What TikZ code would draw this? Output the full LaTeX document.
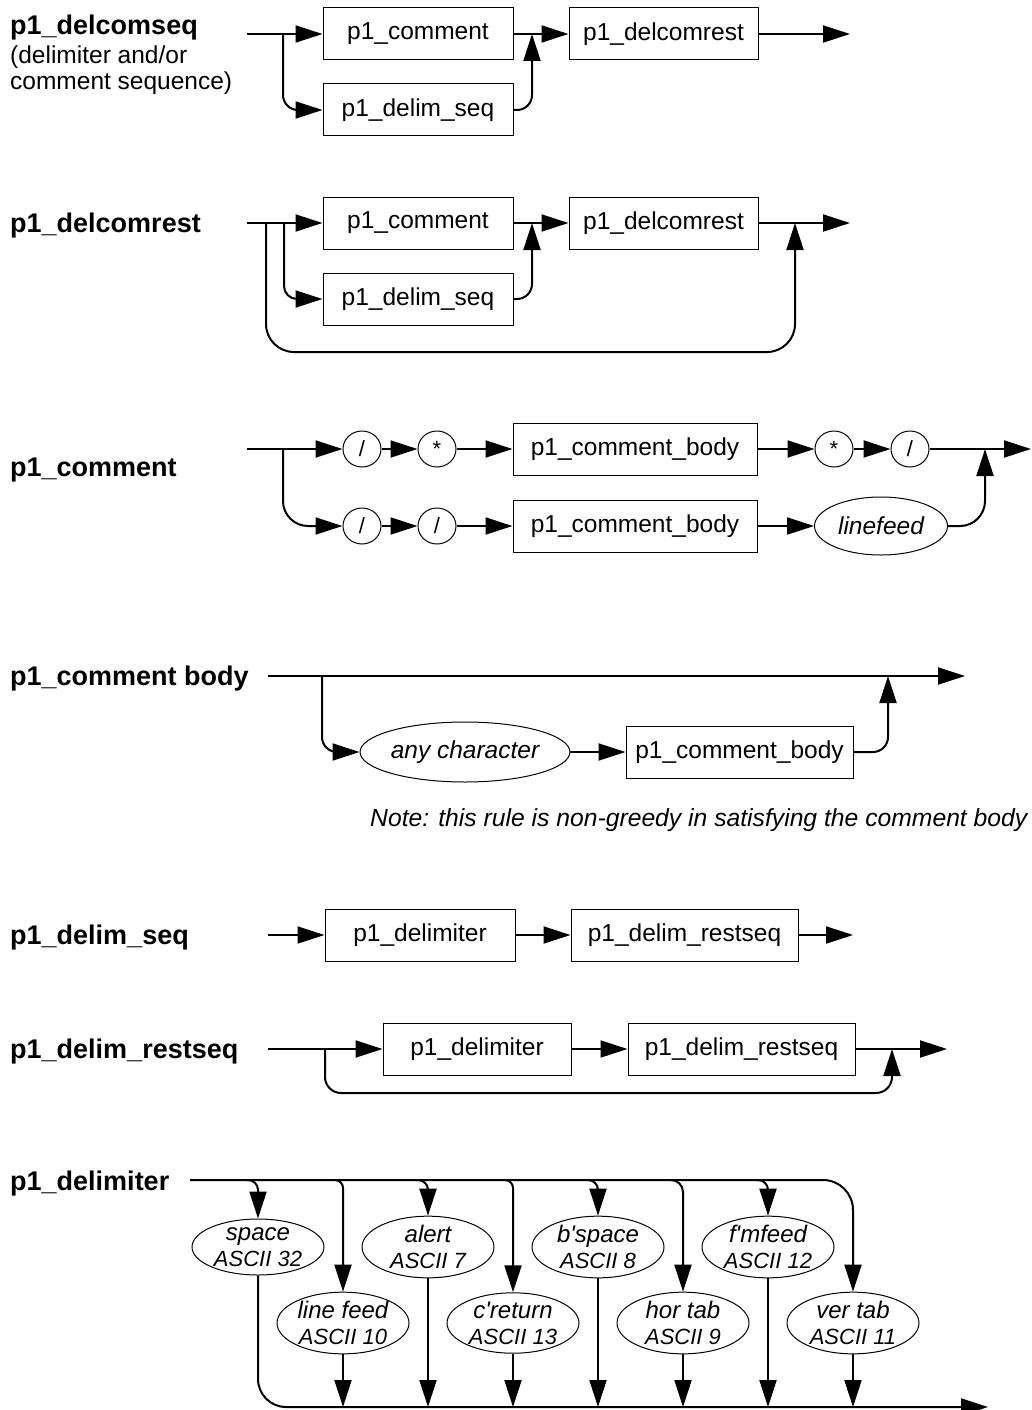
\documentclass[tikz,border=0pt]{standalone}
\usepackage{fontspec}
\setmainfont{Liberation Sans}
\usetikzlibrary{arrows.meta,shapes.geometric}

\begin{document}
\begin{tikzpicture}[x=1pt,y=-1pt,
  conn/.style={line width=2pt,-{Triangle[length=27pt,width=17pt]}},
  wire/.style={line width=2pt},
  box/.style={draw,line width=1pt,rectangle,inner sep=0pt,minimum height=52pt,
    font=\fontsize{24.5}{29}\selectfont},
  term/.style={draw,line width=1pt,ellipse,inner sep=0pt,minimum width=38pt,
    minimum height=36pt,font=\fontsize{22}{26}\selectfont},
  oval/.style={draw,line width=1pt,ellipse,inner sep=0pt,
    font=\fontsize{24.5}{29}\selectfont\itshape},
  dlm/.style={draw,line width=1pt,ellipse,inner sep=0pt,minimum width=132pt,
    minimum height=56pt,align=center,font=\fontsize{24}{26}\selectfont\itshape},
  title/.style={anchor=base west,inner sep=0pt,font=\fontsize{27}{32}\selectfont\bfseries},
  plain/.style={anchor=base west,inner sep=0pt,font=\fontsize{24.5}{29}\selectfont},
]
\useasboundingbox[fill=white] (0,0) rectangle (1032,1410);
\newcommand{\asc}[1]{\fontsize{22}{26}\selectfont #1}
\newcommand{\apo}{\textquotesingle}

% ---------------- p1_delcomseq ----------------
\node[title] (t1) at (10,35) {p1\_delcomseq};
\node[plain] (t1a) at (10,64) {(delimiter and/or};
\node[plain] (t1b) at (10,90) {comment sequence)};
\node[box,minimum width=190pt] (c1) at (418,34) {p1\_comment};
\node[box,minimum width=189pt] (d1) at (663.5,34) {p1\_delcomrest};
\node[box,minimum width=190pt] (s1) at (418,110) {p1\_delim\_seq};
\coordinate (in1) at (247,34);
\coordinate (br1) at (283,34);
\coordinate (jn1) at (532,34);
\coordinate (out1) at (850,34);
\draw[conn] (in1) -- (c1.west);
\draw[conn,rounded corners=15pt] (br1) |- (s1.west);
\draw[conn] (c1.east) -- (d1.west);
\draw[conn,rounded corners=15pt] (s1.east) -| (jn1);
\draw[conn] (d1.east) -- (out1);

% ---------------- p1_delcomrest ----------------
\node[title] (t2) at (10,232) {p1\_delcomrest};
\node[box,minimum width=190pt] (c2) at (418,223) {p1\_comment};
\node[box,minimum width=189pt] (d2) at (663.5,223) {p1\_delcomrest};
\node[box,minimum width=190pt] (s2) at (418,299) {p1\_delim\_seq};
\coordinate (in2) at (247,223);
\coordinate (bo2) at (266,223);
\coordinate (bi2) at (284,223);
\coordinate (lp2) at (530,352);
\coordinate (jn2) at (532,223);
\coordinate (jo2) at (795,223);
\coordinate (out2) at (850,223);
\draw[conn] (in2) -- (c2.west);
\draw[conn,rounded corners=13pt] (bi2) |- (s2.west);
\draw[conn,rounded corners=28pt] (bo2) |- (lp2) -| (jo2);
\draw[conn] (c2.east) -- (d2.west);
\draw[conn,rounded corners=15pt] (s2.east) -| (jn2);
\draw[conn] (d2.east) -- (out2);

% ---------------- p1_comment ----------------
\node[title] (t3) at (10,476) {p1\_comment};
\node[term] (a1) at (362,449) {/};
\node[term] (a2) at (437,449) {*};
\node[box,minimum width=244pt] (b3a) at (635,449) {p1\_comment\_body};
\node[term] (a3) at (834,449) {*};
\node[term] (a4) at (910,449) {/};
\node[term] (a5) at (362,526) {/};
\node[term] (a6) at (437,526) {/};
\node[box,minimum width=244pt] (b3b) at (635,526) {p1\_comment\_body};
\node[oval,minimum width=133pt,minimum height=58pt] (lf3) at (881,526) {linefeed};
\coordinate (in3) at (247,449);
\coordinate (br3) at (283,449);
\coordinate (jn3) at (985,449);
\coordinate (out3) at (1031,449);
\draw[conn] (in3) -- (a1.west);
\draw[conn,rounded corners=25pt] (br3) |- (a5.west);
\draw[conn] (a1) -- (a2);
\draw[conn] (a2) -- (b3a);
\draw[conn] (b3a) -- (a3);
\draw[conn] (a3) -- (a4);
\draw[conn] (a4.east) -- (out3);
\draw[conn] (a5) -- (a6);
\draw[conn] (a6) -- (b3b);
\draw[conn] (b3b) -- (lf3);
\draw[conn,rounded corners=25pt] (lf3.east) -| (jn3);

% ---------------- p1_comment body ----------------
\node[title] (t4) at (10,685) {p1\_comment body};
\node[oval,minimum width=208pt,minimum height=60pt] (any) at (465,752) {any character};
\node[box,minimum width=227pt] (b4) at (739.5,752) {p1\_comment\_body};
\coordinate (in4) at (268,676);
\coordinate (br4) at (322,676);
\coordinate (jn4) at (888,676);
\coordinate (out4) at (965,676);
\draw[conn] (in4) -- (out4);
\draw[conn,rounded corners=15pt] (br4) |- (any.west);
\draw[conn] (any) -- (b4);
\draw[conn,rounded corners=15pt] (b4.east) -| (jn4);
\node[plain,font=\fontsize{24.7}{29}\selectfont\itshape] (note) at (370,826)
  {Note: this rule is non-greedy in satisfying the comment body};

% ---------------- p1_delim_seq ----------------
\node[title] (t5) at (10,944) {p1\_delim\_seq};
\node[box,minimum width=190pt] (d5) at (420,935) {p1\_delimiter};
\node[box,minimum width=227pt] (r5) at (684.5,935) {p1\_delim\_restseq};
\coordinate (in5) at (268,935);
\coordinate (out5) at (853,935);
\draw[conn] (in5) -- (d5.west);
\draw[conn] (d5) -- (r5);
\draw[conn] (r5.east) -- (out5);

% ---------------- p1_delim_restseq ----------------
\node[title] (t6) at (10,1058) {p1\_delim\_restseq};
\node[box,minimum width=188pt] (d6) at (477,1049) {p1\_delimiter};
\node[box,minimum width=227pt] (r6) at (741.5,1049) {p1\_delim\_restseq};
\coordinate (in6) at (268,1049);
\coordinate (br6) at (325,1049);
\coordinate (lp6) at (600,1093);
\coordinate (jn6) at (892,1049);
\coordinate (out6) at (947,1049);
\draw[conn] (in6) -- (d6.west);
\draw[conn] (d6) -- (r6);
\draw[conn] (r6.east) -- (out6);
\draw[conn,rounded corners=16pt] (br6) |- (lp6) -| (jn6);

% ---------------- p1_delimiter ----------------
\node[title] (t7) at (10,1190) {p1\_delimiter};
\node[dlm] (sp) at (258,1247) {space\\\asc{ASCII 32}};
\node[dlm] (al) at (428,1247) {alert\\\asc{ASCII 7}};
\node[dlm] (bs) at (598,1247) {b\apo space\\\asc{ASCII 8}};
\node[dlm] (ff) at (768,1247) {f\apo mfeed\\\asc{ASCII 12}};
\node[dlm] (lf) at (343,1323) {line feed\\\asc{ASCII 10}};
\node[dlm] (cr) at (513,1323) {c\apo return\\\asc{ASCII 13}};
\node[dlm] (ht) at (683,1323) {hor tab\\\asc{ASCII 9}};
\node[dlm] (vt) at (853,1323) {ver tab\\\asc{ASCII 11}};
\coordinate (in7) at (190,1180);
\coordinate (out7) at (988,1407);
\coordinate (tsp) at (246,1180);
\coordinate (tlf) at (335,1180);
\coordinate (tal) at (416,1180);
\coordinate (tcr) at (505,1180);
\coordinate (tbs) at (586,1180);
\coordinate (tht) at (670,1180);
\coordinate (tff) at (756,1180);
% main rail along the top, ending in the last branch
\draw[conn,rounded corners=30pt] (in7) -| (vt.north);
% taps from the top rail
\draw[conn,rounded corners=10pt] (tsp) -| (sp.north);
\draw[conn,rounded corners=8pt] (tlf) -| (lf.north);
\draw[conn,rounded corners=10pt] (tal) -| (al.north);
\draw[conn,rounded corners=8pt] (tcr) -| (cr.north);
\draw[conn,rounded corners=10pt] (tbs) -| (bs.north);
\draw[conn,rounded corners=12pt] (tht) -| (ht.north);
\draw[conn,rounded corners=10pt] (tff) -| (ff.north);
% bottom rail, starting from the first branch
\draw[conn,rounded corners=28pt] (sp.south) |- (out7);
% drops onto the bottom rail
\draw[conn] (lf.south) -- (lf.south |- out7);
\draw[conn] (al.south) -- (al.south |- out7);
\draw[conn] (cr.south) -- (cr.south |- out7);
\draw[conn] (bs.south) -- (bs.south |- out7);
\draw[conn] (ht.south) -- (ht.south |- out7);
\draw[conn] (ff.south) -- (ff.south |- out7);
\draw[conn] (vt.south) -- (vt.south |- out7);
\end{tikzpicture}
\end{document}
